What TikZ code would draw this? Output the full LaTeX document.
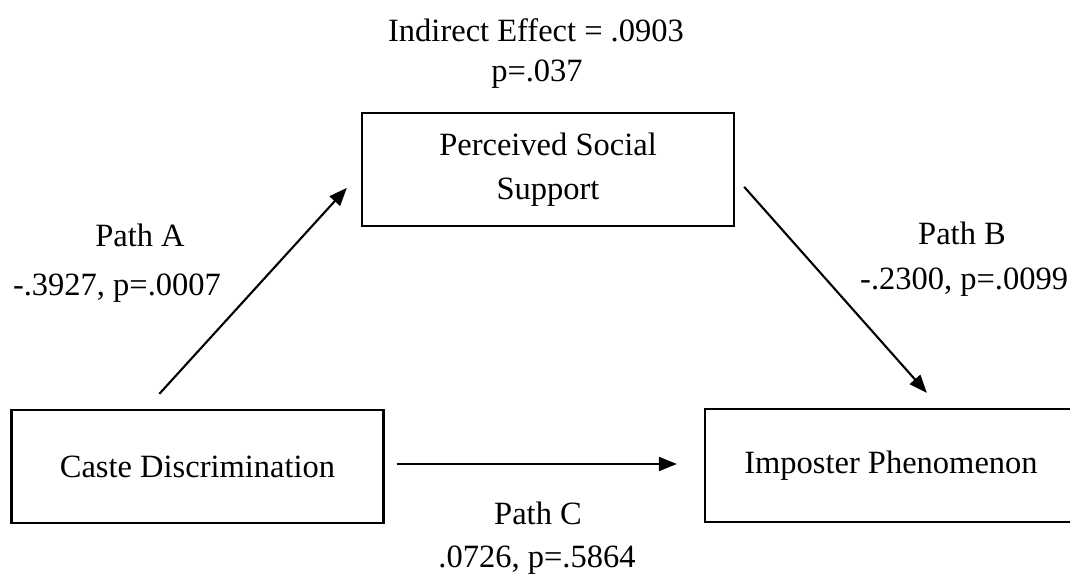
\documentclass[tikz,border=0pt]{standalone}
\usepackage{fontspec}
\setmainfont{Liberation Serif}
\usetikzlibrary{positioning}
\usetikzlibrary{arrows.meta}

\begin{document}
\begin{tikzpicture}[x=1pt,y=1pt,
  varbox/.style={draw, line width=2.3pt, minimum width=372pt, minimum height=113pt,
    inner sep=0pt, align=center, font=\fontsize{32.5}{44}\selectfont},
  labeltext/.style={font=\fontsize{32.5}{40}\selectfont, inner sep=0pt},
  patharrow/.style={-{Triangle[length=18pt,width=14pt]}, line width=2.1pt}]
  \useasboundingbox (0,0) rectangle (1070,578);

  % Variables
  \node[varbox] (caste) at (197.5,111.5) {Caste Discrimination};
  \node[varbox] (support) at (548,408.5) {Perceived Social\\Support};
  \node[varbox] (imposter) at (891,112.5) {Imposter Phenomenon};

  % Indirect effect
  \node[labeltext] (indirect) at (536,548) {Indirect Effect = .0903};
  \node[labeltext] (indirectp) at (537,504) {p=.037};

  % Path A
  \draw[patharrow] ([shift={(149,15)}]caste.north west) -- ([shift={(-14,-76)}]support.north west);
  \node[labeltext] (patha) at (140,343) {Path A};
  \node[labeltext] (pathaval) at (117,290) {-.3927, p=.0007};

  % Path B
  \draw[patharrow] ([shift={(9,-75)}]support.north east) -- ([shift={(223,15)}]imposter.north west);
  \node[labeltext] (pathb) at (962,345) {Path B};
  \node[labeltext, anchor=west] (pathbval) at (860,296) {-.2300, p=.0099};

  % Path C
  \draw[patharrow] ([shift={(12,2.5)}]caste.east) -- ([shift={(-27,1.5)}]imposter.west);
  \node[labeltext] (pathc) at (538,65) {Path C};
  \node[labeltext] (pathcval) at (537,18) {.0726, p=.5864};
\end{tikzpicture}
\end{document}
